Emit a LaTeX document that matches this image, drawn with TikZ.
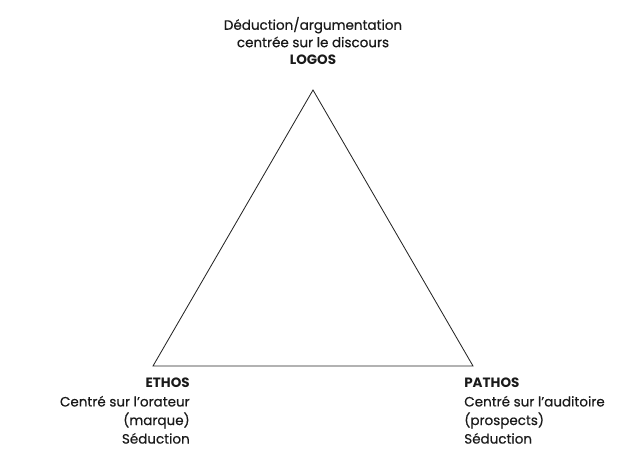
\documentclass[tikz,border=0pt]{standalone}
\usepackage{fontspec}
\setmainfont{Poppins}[UprightFeatures={FakeBold=0.5}]
\usetikzlibrary{positioning}
\definecolor{TextGrey}{HTML}{1A1A1A}
\tikzset{
    % Text styles
    labeltext/.style={
        text=TextGrey,
        font=\fontsize{9.6}{13.2}\selectfont,
        inner sep=0pt
    },
    % Line style
    sideline/.style={
        draw=black!85,
        line width=0.6pt,
        line join=miter
    }
}

\begin{document}
\begin{tikzpicture}[x=0.025cm,y=0.025cm]
    % Canvas
    \useasboundingbox (0,0) rectangle (630,450);

    % Corners of the triangle
    \coordinate (top) at (313,360);
    \coordinate (left) at (153,84);
    \coordinate (right) at (473,84);

    % Triangle
    \draw[sideline] (top) -- (left) -- (right) -- cycle;

    % Labels
    \node[labeltext,font=\fontsize{9.6}{12.4}\selectfont,align=center,anchor=south] (logos) at (313,385)
        {Déduction/argumentation\\centrée sur le discours\\\textbf{LOGOS}};
    \node[labeltext,align=right,anchor=north east] (ethos) at (190,72)
        {\textbf{ETHOS}\\Centré sur l'orateur\\(marque)\\Séduction};
    \node[labeltext,align=left,anchor=north west] (pathos) at (464,72)
        {\textbf{PATHOS}\\Centré sur l'auditoire\\(prospects)\\Séduction};
\end{tikzpicture}
\end{document}
